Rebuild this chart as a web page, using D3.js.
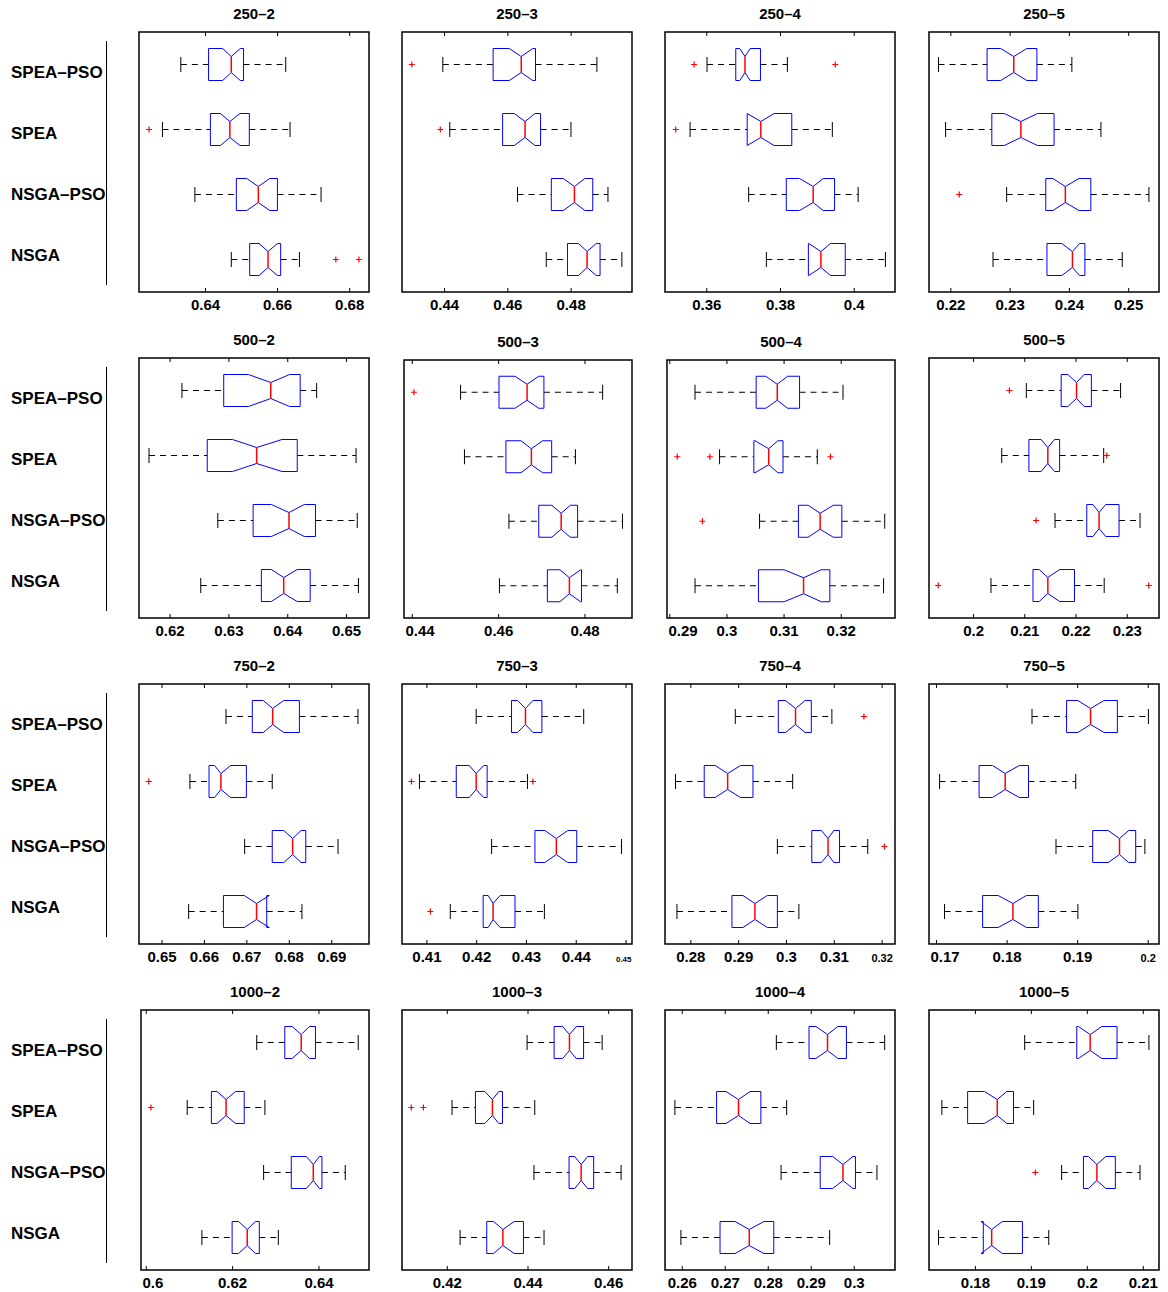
<!DOCTYPE html>
<html lang="en">
<head>
<meta charset="utf-8">
<title>Notched boxplots</title>
<script src="https://d3js.org/d3.v7.min.js"></script>
<style>
  body { margin: 0; background: #fff; }
  svg text { font-family: "Liberation Sans", Arial, Helvetica, sans-serif; font-weight: bold; fill: #000; }
</style>
</head>
<body>
<script>
// ----- data -----
// each box row: [whiskerLow, q1, notchLow, median, notchHigh, q3, whiskerHigh]
var algorithms = ["SPEA\u2013PSO", "SPEA", "NSGA\u2013PSO", "NSGA"];
var titles = ["250\u20132", "250\u20133", "250\u20134", "250\u20135",
              "500\u20132", "500\u20133", "500\u20134", "500\u20135",
              "750\u20132", "750\u20133", "750\u20134", "750\u20135",
              "1000\u20132", "1000\u20133", "1000\u20134", "1000\u20135"];

var b250_2 = [[0.6333, 0.6410, 0.6449, 0.6473, 0.6498, 0.6507, 0.6624],
              [0.6282, 0.6415, 0.6443, 0.6469, 0.6497, 0.6523, 0.6636],
              [0.6372, 0.6487, 0.6516, 0.6548, 0.6580, 0.6601, 0.6722],
              [0.6473, 0.6524, 0.6550, 0.6575, 0.6601, 0.6610, 0.6662]];
var b250_3 = [[0.4396, 0.4555, 0.4606, 0.4644, 0.4680, 0.4689, 0.4883],
              [0.4418, 0.4585, 0.4622, 0.4656, 0.4687, 0.4705, 0.4801],
              [0.4632, 0.4739, 0.4777, 0.4812, 0.4845, 0.4870, 0.4918],
              [0.4723, 0.4790, 0.4825, 0.4852, 0.4881, 0.4893, 0.4962]];
var b250_4 = [[0.3602, 0.3680, 0.3691, 0.3705, 0.3719, 0.3747, 0.3820],
              [0.3556, 0.3711, 0.3711, 0.3748, 0.3784, 0.3832, 0.3942],
              [0.3715, 0.3817, 0.3853, 0.3890, 0.3917, 0.3948, 0.4012],
              [0.3763, 0.3877, 0.3878, 0.3911, 0.3937, 0.3977, 0.4086]];
var b250_5 = [[0.2180, 0.2262, 0.2285, 0.2307, 0.2329, 0.2346, 0.2405],
              [0.2192, 0.2270, 0.2291, 0.2319, 0.2347, 0.2375, 0.2454],
              [0.2295, 0.2361, 0.2373, 0.2394, 0.2417, 0.2437, 0.2535],
              [0.2272, 0.2363, 0.2388, 0.2406, 0.2418, 0.2427, 0.2490]];
var b500_2 = [[0.6221, 0.6292, 0.6334, 0.6372, 0.6404, 0.6422, 0.6450],
              [0.6165, 0.6264, 0.6307, 0.6348, 0.6391, 0.6417, 0.6517],
              [0.6282, 0.6342, 0.6373, 0.6403, 0.6429, 0.6448, 0.6519],
              [0.6253, 0.6356, 0.6373, 0.6394, 0.6417, 0.6439, 0.6521]];
var b500_3 = [[0.4513, 0.4602, 0.4639, 0.4667, 0.4694, 0.4706, 0.4842],
              [0.4522, 0.4618, 0.4653, 0.4677, 0.4703, 0.4724, 0.4779],
              [0.4625, 0.4694, 0.4724, 0.4746, 0.4767, 0.4784, 0.4888],
              [0.4603, 0.4714, 0.4743, 0.4765, 0.4791, 0.4793, 0.4876]];
var b500_4 = [[0.2945, 0.3052, 0.3069, 0.3089, 0.3107, 0.3128, 0.3204],
              [0.2988, 0.3048, 0.3050, 0.3074, 0.3090, 0.3099, 0.3159],
              [0.3058, 0.3126, 0.3143, 0.3164, 0.3187, 0.3202, 0.3277],
              [0.2945, 0.3056, 0.3101, 0.3135, 0.3166, 0.3181, 0.3275]];
var b500_5 = [[0.2104, 0.2172, 0.2185, 0.2202, 0.2217, 0.2231, 0.2288],
              [0.2056, 0.2109, 0.2133, 0.2146, 0.2159, 0.2169, 0.2255],
              [0.2160, 0.2222, 0.2234, 0.2246, 0.2259, 0.2285, 0.2326],
              [0.2035, 0.2117, 0.2129, 0.2146, 0.2169, 0.2198, 0.2256]];
var b750_2 = [[0.6652, 0.6714, 0.6740, 0.6762, 0.6788, 0.6825, 0.6963],
              [0.6567, 0.6612, 0.6625, 0.6640, 0.6663, 0.6700, 0.6761],
              [0.6696, 0.6761, 0.6788, 0.6809, 0.6829, 0.6840, 0.6916],
              [0.6564, 0.6646, 0.6695, 0.6724, 0.6754, 0.6748, 0.6831]];
var b750_3 = [[0.4200, 0.4271, 0.4283, 0.4299, 0.4314, 0.4332, 0.4416],
              [0.4086, 0.4160, 0.4186, 0.4200, 0.4215, 0.4222, 0.4303],
              [0.4231, 0.4318, 0.4338, 0.4361, 0.4384, 0.4402, 0.4492],
              [0.4148, 0.4214, 0.4224, 0.4234, 0.4248, 0.4278, 0.4337]];
var b750_4 = [[0.2894, 0.2984, 0.2999, 0.3020, 0.3040, 0.3053, 0.3096],
              [0.2769, 0.2829, 0.2852, 0.2878, 0.2905, 0.2931, 0.3014],
              [0.2982, 0.3054, 0.3074, 0.3088, 0.3100, 0.3112, 0.3171],
              [0.2772, 0.2887, 0.2910, 0.2935, 0.2961, 0.2982, 0.3027]];
var b750_5 = [[0.1836, 0.1885, 0.1901, 0.1919, 0.1938, 0.1957, 0.2001],
              [0.1705, 0.1761, 0.1780, 0.1798, 0.1818, 0.1831, 0.1898],
              [0.1870, 0.1922, 0.1944, 0.1960, 0.1973, 0.1983, 0.1996],
              [0.1712, 0.1766, 0.1788, 0.1809, 0.1828, 0.1845, 0.1901]];
var b1000_2 = [[0.6257, 0.6322, 0.6339, 0.6360, 0.6379, 0.6393, 0.6492],
               [0.6096, 0.6152, 0.6165, 0.6186, 0.6208, 0.6228, 0.6276],
               [0.6273, 0.6337, 0.6372, 0.6388, 0.6402, 0.6408, 0.6462],
               [0.6130, 0.6200, 0.6215, 0.6235, 0.6254, 0.6263, 0.6307]];
var b1000_3 = [[0.4399, 0.4466, 0.4487, 0.4504, 0.4521, 0.4539, 0.4585],
               [0.4213, 0.4271, 0.4294, 0.4313, 0.4329, 0.4338, 0.4418],
               [0.4416, 0.4503, 0.4517, 0.4533, 0.4549, 0.4564, 0.4632],
               [0.4233, 0.4299, 0.4316, 0.4339, 0.4367, 0.4390, 0.4441]];
var b1000_4 = [[0.2820, 0.2896, 0.2912, 0.2939, 0.2963, 0.2983, 0.3072],
               [0.2584, 0.2681, 0.2703, 0.2732, 0.2759, 0.2784, 0.2844],
               [0.2831, 0.2922, 0.2951, 0.2975, 0.2998, 0.3004, 0.3054],
               [0.2598, 0.2689, 0.2724, 0.2757, 0.2791, 0.2814, 0.2944]];
var b1000_5 = [[0.1889, 0.1982, 0.1985, 0.2006, 0.2027, 0.2054, 0.2111],
               [0.1741, 0.1787, 0.1817, 0.1840, 0.1857, 0.1869, 0.1905],
               [0.1955, 0.1994, 0.2003, 0.2018, 0.2034, 0.2051, 0.2095],
               [0.1735, 0.1815, 0.1811, 0.1830, 0.1849, 0.1885, 0.1932]];

// outliers per algorithm (same order as algorithms)
var o250_2 = [[], [0.6245], [], [0.6763, 0.6827]];
var o250_3 = [[0.4298], [0.4388], [], []];
var o250_4 = [[0.3567, 0.3950], [0.3517], [], []];
var o250_5 = [[], [], [0.2215], []];
var o500_2 = [[], [], [], []];
var o500_3 = [[0.4405], [], [], []];
var o500_4 = [[], [0.2914, 0.2971, 0.3182], [0.2958], []];
var o500_5 = [[0.2071], [0.2261], [0.2123], [0.1932, 0.2343]];
var o750_2 = [[], [0.6470], [], []];
var o750_3 = [[], [0.4070, 0.4314], [], [0.4108]];
var o750_4 = [[0.3163], [], [0.3206], []];
var o750_5 = [[], [], [], []];
var o1000_2 = [[], [0.6012], [], []];
var o1000_3 = [[], [0.4112, 0.4142], [], []];
var o1000_4 = [[], [], [], []];
var o1000_5 = [[], [], [0.1908], []];

var xDomains = [[0.6217, 0.6855], [0.4267, 0.4994], [0.3488, 0.4112], [0.2164, 0.2552],
                [0.6148, 0.6539], [0.4382, 0.4910], [0.2896, 0.3295], [0.1914, 0.2363],
                [0.6447, 0.6989], [0.4051, 0.4513], [0.2747, 0.3228], [0.1690, 0.2016],
                [0.5989, 0.6517], [0.4089, 0.4659], [0.2561, 0.3096], [0.1718, 0.2129]];
var xTicks = [[0.64, 0.66, 0.68], [0.44, 0.46, 0.48], [0.36, 0.38, 0.40], [0.22, 0.23, 0.24, 0.25],
              [0.62, 0.63, 0.64, 0.65], [0.44, 0.46, 0.48], [0.29, 0.30, 0.31, 0.32], [0.20, 0.21, 0.22, 0.23],
              [0.65, 0.66, 0.67, 0.68, 0.69], [0.41, 0.42, 0.43, 0.44, 0.45], [0.28, 0.29, 0.30, 0.31, 0.32], [0.17, 0.18, 0.19, 0.20],
              [0.60, 0.62, 0.64], [0.42, 0.44, 0.46], [0.26, 0.27, 0.28, 0.29, 0.30], [0.18, 0.19, 0.20, 0.21]];

var stats = [b250_2, b250_3, b250_4, b250_5, b500_2, b500_3, b500_4, b500_5,
             b750_2, b750_3, b750_4, b750_5, b1000_2, b1000_3, b1000_4, b1000_5];
var outliers = [o250_2, o250_3, o250_4, o250_5, o500_2, o500_3, o500_4, o500_5,
                o750_2, o750_3, o750_4, o750_5, o1000_2, o1000_3, o1000_4, o1000_5];

// ----- layout -----
var w = 1168, h = 1292;
var colX = [139, 402, 665, 929];
var rowY = [32, 358, 684, 1010];
var pw = 230, ph = 260;
var boxHalf = 16, notchHalf = 8, capHalf = 7.5;
// small frame offsets of individual panels in the original: [panel, dLeft, dTop]
var frameInset = [[5, 2, 2], [6, 2, 2], [12, 2, 0]];
// a few last tick labels are drawn smaller in the original: [panel, tick, font size]
var smallTickLabels = [[9, 0.45, 8], [10, 0.32, 11], [11, 0.20, 11]];

var fmt = function (d) { return String(+d.toFixed(2)); };

var svg = d3.select("body").append("svg")
  .attr("width", w)
  .attr("height", h);

svg.append("rect").attr("width", w).attr("height", h).attr("fill", "#fff");

// group label axis on the left of each row
rowY.forEach(function (top) {
  var lab = d3.scaleBand().domain(algorithms).range([top + 9, top + ph - 7]);
  var g = svg.append("g");
  g.append("line")
    .attr("x1", 106.5).attr("x2", 106.5)
    .attr("y1", top + 9).attr("y2", top + ph - 7)
    .attr("stroke", "#000").attr("stroke-width", 1);
  g.selectAll("text")
    .data(algorithms)
    .enter()
    .append("text")
    .attr("x", 11)
    .attr("y", function (d) { return lab(d) + lab.bandwidth() / 2; })
    .attr("dy", "0.36em")
    .style("font-size", "17px")
    .text(function (d) { return d; });
});

stats.forEach(function (panel, i) {
  var dl = 0, dt = 0;
  frameInset.forEach(function (f) { if (f[0] === i) { dl = f[1]; dt = f[2]; } });
  var left = colX[i % 4] + dl, top = rowY[Math.floor(i / 4)] + dt;
  var pwi = pw - dl, phi = ph - dt;
  var xScale = d3.scaleLinear().domain(xDomains[i]).range([0, pwi]);
  var yScale = d3.scaleBand().domain(algorithms).range([0, phi]);

  var g = svg.append("g").attr("transform", "translate(" + left + "," + top + ")");

  // title
  g.append("text")
    .attr("x", pwi / 2)
    .attr("y", -13)
    .attr("text-anchor", "middle")
    .style("font-size", "15px")
    .text(titles[i]);

  // boxes
  panel.forEach(function (s, j) {
    var yc = yScale(algorithms[j]) + yScale.bandwidth() / 2;
    var bg = g.append("g");

    // dashed whiskers
    [[s[0], s[1]], [s[5], s[6]]].forEach(function (seg) {
      bg.append("line")
        .attr("x1", xScale(seg[0])).attr("x2", xScale(seg[1]))
        .attr("y1", yc).attr("y2", yc)
        .attr("stroke", "#000").attr("stroke-width", 1)
        .style("stroke-dasharray", "6,5");
    });
    // whisker caps
    [s[0], s[6]].forEach(function (v) {
      bg.append("line")
        .attr("x1", xScale(v)).attr("x2", xScale(v))
        .attr("y1", yc - capHalf).attr("y2", yc + capHalf)
        .attr("stroke", "#000").attr("stroke-width", 1);
    });

    // notched box
    var pts = [[s[1], -boxHalf], [s[2], -boxHalf], [s[3], -notchHalf], [s[4], -boxHalf], [s[5], -boxHalf],
               [s[5], boxHalf], [s[4], boxHalf], [s[3], notchHalf], [s[2], boxHalf], [s[1], boxHalf]];
    bg.append("path")
      .attr("d", d3.line()
        .x(function (p) { return xScale(p[0]); })
        .y(function (p) { return yc + p[1]; })(pts) + "Z")
      .attr("fill", "none")
      .attr("stroke", "#0000ff")
      .attr("stroke-width", 1);

    // median
    bg.append("line")
      .attr("x1", xScale(s[3])).attr("x2", xScale(s[3]))
      .attr("y1", yc - notchHalf).attr("y2", yc + notchHalf)
      .attr("stroke", "#ff0000").attr("stroke-width", 1.5);

    // outliers
    outliers[i][j].forEach(function (v) {
      var ox = xScale(v);
      bg.append("path")
        .attr("d", "M" + (ox - 3) + "," + yc + "H" + (ox + 3) + "M" + ox + "," + (yc - 3) + "V" + (yc + 3))
        .attr("stroke", "#ff0000").attr("stroke-width", 1.2);
    });
  });

  // axes: inward ticks at bottom and top
  var bottom = g.append("g")
    .attr("transform", "translate(0," + phi + ")")
    .call(d3.axisBottom(xScale).tickValues(xTicks[i]).tickSizeInner(-4).tickSizeOuter(0).tickFormat(fmt));
  bottom.select(".domain").remove();
  bottom.selectAll("line").attr("stroke", "#000");
  bottom.selectAll("text")
    .attr("fill", "#000")
    .attr("y", 17.5)
    .attr("dy", null)
    .style("font-size", function (d) {
      var sz = 15;
      smallTickLabels.forEach(function (s) { if (s[0] === i && Math.abs(s[1] - d) < 1e-9) sz = s[2]; });
      return sz + "px";
    })
    .attr("x", function (d) {
      var tw = this.getComputedTextLength(), tx = xScale(d);
      if (tx - tw / 2 < 1) return tw / 2 + 1 - tx;
      if (tx + tw / 2 > pwi - 1) return pwi - 1 - tw / 2 - tx;
      return 0;
    });

  var topAxis = g.append("g")
    .call(d3.axisTop(xScale).tickValues(xTicks[i]).tickSizeInner(-4).tickSizeOuter(0).tickFormat(""));
  topAxis.select(".domain").remove();
  topAxis.selectAll("line").attr("stroke", "#000");

  // frame
  g.append("rect")
    .attr("width", pwi).attr("height", phi)
    .attr("fill", "none")
    .attr("stroke", "#000")
    .attr("stroke-width", 1.5);
});
</script>
</body>
</html>
